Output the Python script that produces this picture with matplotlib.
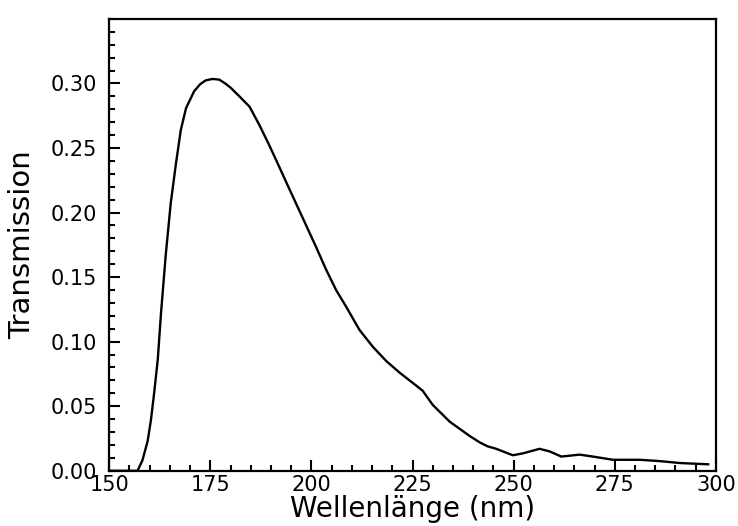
import matplotlib
matplotlib.use("Agg")
import matplotlib.pyplot as plt
from matplotlib.ticker import MultipleLocator

wavelength = [150, 155, 157, 158.2, 159.5, 160.3, 161.1, 162.0, 162.8, 164.0, 165.2,
              166.5, 167.7, 169.0, 171.0, 172.5, 173.9, 175.6, 177.2, 178.7, 180.1,
              182.2, 184.7, 187.1, 189.6, 192.1, 193.7, 196.2, 198.7, 201.2, 203.6,
              206.1, 208.6, 211.9, 215.2, 218.5, 221.8, 225.9, 227.5, 230.0, 234.2,
              239.1, 241.6, 243.5, 245.7, 249.8, 252.3, 256.4, 258.9, 261.8, 266.3,
              269.6, 274.6, 281.2, 286.1, 291.1, 298.1]
transmission = [0.0, 0.0, 0.0, 0.008, 0.023, 0.039, 0.060, 0.086, 0.122, 0.168, 0.207,
                0.238, 0.264, 0.281, 0.294, 0.2995, 0.3025, 0.3035, 0.303, 0.300, 0.2965,
                0.290, 0.282, 0.268, 0.252, 0.235, 0.224, 0.207, 0.190, 0.173, 0.156,
                0.140, 0.127, 0.109, 0.096, 0.085, 0.076, 0.066, 0.062, 0.051, 0.038,
                0.027, 0.022, 0.019, 0.017, 0.012, 0.0135, 0.017, 0.015, 0.011, 0.0125,
                0.011, 0.0085, 0.0085, 0.0075, 0.006, 0.005]

x_ticks = [150, 175, 200, 225, 250, 275, 300]
y_ticks = [0.00, 0.05, 0.10, 0.15, 0.20, 0.25, 0.30]
y_tick_labels = ["0.00", "0.05", "0.10", "0.15", "0.20", "0.25", "0.30"]

fig = plt.figure(figsize=(7.38, 5.26), dpi=100)
ax = fig.add_axes([0.148, 0.105, 0.822, 0.859])
ax.plot(wavelength, transmission, color="black", linewidth=1.7)

ax.set_xlim(150, 300)
ax.set_ylim(0, 0.35)
ax.set_xticks(x_ticks)
ax.set_xticklabels([str(t) for t in x_ticks])
ax.set_yticks(y_ticks)
ax.set_yticklabels(y_tick_labels)
ax.xaxis.set_minor_locator(MultipleLocator(5))
ax.yaxis.set_minor_locator(MultipleLocator(0.01))

ax.tick_params(axis="both", which="both", direction="in", top=False, right=False,
               width=1.5, colors="black")
ax.tick_params(axis="both", which="major", length=8, labelsize=15)
ax.tick_params(axis="both", which="minor", length=4)
ax.tick_params(axis="x", which="major", pad=3)
ax.tick_params(axis="y", which="major", pad=9)

for s in ax.spines.values():
    s.set_linewidth(1.6)

ax.set_xlabel("Wellenlänge (nm)", fontsize=20, labelpad=0)
ax.set_ylabel("Transmission", fontsize=21, labelpad=10)

fig.savefig("out.png", dpi=100)
